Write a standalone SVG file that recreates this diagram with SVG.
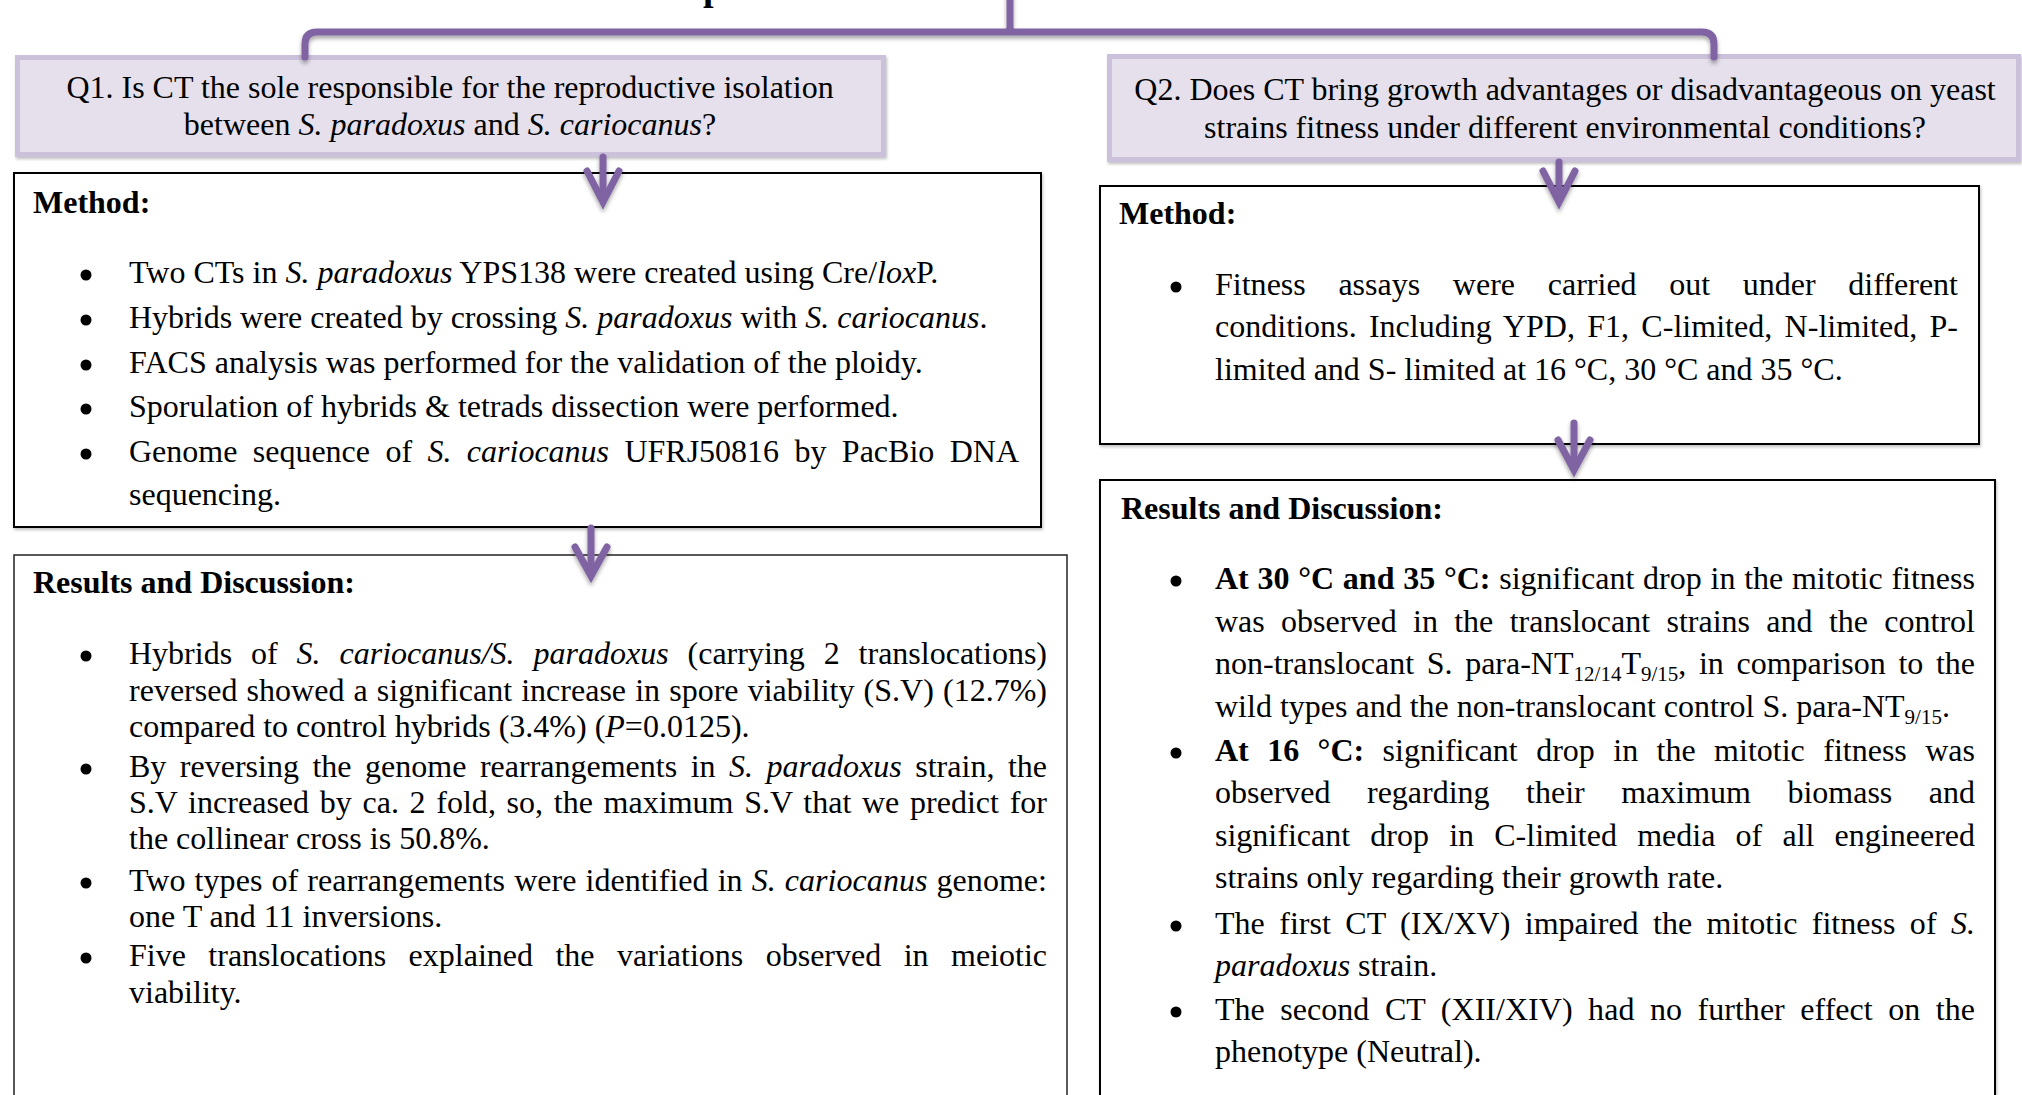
<svg xmlns="http://www.w3.org/2000/svg" width="2022" height="1095" viewBox="0 0 2022 1095">
<defs>
<style>
text { font-family: "Liberation Serif", "Times New Roman", serif; font-size: 32px; fill: #000; }
.h, .b { font-weight: bold; }
.i { font-style: italic; }
.q { text-anchor: middle; }
.sub { font-size: 21px; }
.qbox { fill: #e5e0ec; stroke: #ccc1da; stroke-width: 5; }
.box { fill: #fff; stroke: #000; stroke-width: 2; }
.box2 { fill: #fff; stroke: #222; stroke-width: 1.5; }
.bul { fill: #000; }
.conn { fill: none; stroke: #8064a2; stroke-width: 7; stroke-linecap: round; stroke-linejoin: round; }
.head { fill: none; stroke: #8064a2; stroke-width: 7; stroke-linejoin: miter; stroke-linecap: round; }
</style>
<filter id="sh" filterUnits="userSpaceOnUse" x="0" y="0" width="2022" height="1095">
<feDropShadow dx="0" dy="3" stdDeviation="2" flood-color="#000" flood-opacity="0.35"/>
</filter>
<filter id="bsh" filterUnits="userSpaceOnUse" x="0" y="0" width="2022" height="1095">
<feDropShadow dx="1" dy="2" stdDeviation="1.5" flood-color="#000" flood-opacity="0.25"/>
</filter>
</defs>
<rect width="2022" height="1095" fill="#fff"/>

<g id="title">
<text class="h" x="703" y="0" style="font-size:38px">p</text>
</g>

<g id="q1">
<rect class="qbox" x="17.5" y="57.5" width="866" height="97" filter="url(#bsh)"/>
<text class="q" x="450" y="98">Q1. Is CT the sole responsible for the reproductive isolation</text>
<text class="q" x="450" y="135">between <tspan class="i">S. paradoxus</tspan> and <tspan class="i">S. cariocanus</tspan>?</text>
</g>

<g id="q2">
<rect class="qbox" x="1109.5" y="56.5" width="909" height="103" filter="url(#bsh)"/>
<text class="q" x="1565" y="100">Q2. Does CT bring growth advantages or disadvantageous on yeast</text>
<text class="q" x="1565" y="138">strains fitness under different environmental conditions?</text>
</g>

<g id="method1">
<rect class="box" x="14" y="173" width="1027" height="354" filter="url(#bsh)"/>
<text class="h" x="33" y="213">Method:</text>
<circle class="bul" cx="86" cy="275" r="5.5"/><text x="129" y="283">Two CTs in <tspan class="i">S. paradoxus</tspan> YPS138 were created using Cre/<tspan class="i">lox</tspan>P.</text>
<circle class="bul" cx="86" cy="320" r="5.5"/><text x="129" y="328">Hybrids were created by crossing <tspan class="i">S. paradoxus</tspan> with <tspan class="i">S. cariocanus</tspan>.</text>
<circle class="bul" cx="86" cy="365" r="5.5"/><text x="129" y="373">FACS analysis was performed for the validation of the ploidy.</text>
<circle class="bul" cx="86" cy="409" r="5.5"/><text x="129" y="417">Sporulation of hybrids &amp; tetrads dissection were performed.</text>
<circle class="bul" cx="86" cy="454" r="5.5"/><text x="129" y="462" textLength="890" lengthAdjust="spacing" word-spacing="7.4">Genome sequence of <tspan class="i">S. cariocanus</tspan> UFRJ50816 by PacBio DNA</text>
<text x="129" y="505">sequencing.</text>
</g>

<g id="results1">
<rect class="box2" x="14" y="555" width="1053" height="560"/>
<text class="h" x="33" y="593">Results and Discussion:</text>
<circle class="bul" cx="86" cy="656" r="5.5"/><text x="129" y="664" textLength="918" lengthAdjust="spacing" word-spacing="10.9">Hybrids of <tspan class="i">S. cariocanus/S. paradoxus</tspan> (carrying 2 translocations)</text>
<text x="129" y="701" textLength="918" lengthAdjust="spacing" word-spacing="1.1">reversed showed a significant increase in spore viability (S.V) (12.7%)</text>
<text x="129" y="737">compared to control hybrids (3.4%) (<tspan class="i">P</tspan>=0.0125).</text>
<circle class="bul" cx="86" cy="769" r="5.5"/><text x="129" y="777" textLength="918" lengthAdjust="spacing" word-spacing="5.5">By reversing the genome rearrangements in <tspan class="i">S. paradoxus</tspan> strain, the</text>
<text x="129" y="813" textLength="918" lengthAdjust="spacing" word-spacing="2.6">S.V increased by ca. 2 fold, so, the maximum S.V that we predict for</text>
<text x="129" y="849">the collinear cross is 50.8%.</text>
<circle class="bul" cx="86" cy="883" r="5.5"/><text x="129" y="891" textLength="918" lengthAdjust="spacing" word-spacing="1">Two types of rearrangements were identified in <tspan class="i">S. cariocanus</tspan> genome:</text>
<text x="129" y="927">one T and 11 inversions.</text>
<circle class="bul" cx="86" cy="958" r="5.5"/><text x="129" y="966" textLength="918" lengthAdjust="spacing" word-spacing="14.4">Five translocations explained the variations observed in meiotic</text>
<text x="129" y="1003">viability.</text>
</g>

<g id="method2">
<rect class="box" x="1100" y="186" width="879" height="258" filter="url(#bsh)"/>
<text class="h" x="1119" y="224">Method:</text>
<circle class="bul" cx="1176" cy="287" r="5.5"/><text x="1215" y="295" textLength="743" lengthAdjust="spacing" word-spacing="24.6">Fitness assays were carried out under different</text>
<text x="1215" y="337" textLength="743" lengthAdjust="spacing" word-spacing="4.2">conditions. Including YPD, F1, C-limited, N-limited, P-</text>
<text x="1215" y="380">limited and S- limited at 16 °C, 30 °C and 35 °C.</text>
</g>

<g id="results2">
<rect class="box" x="1100" y="480" width="895" height="640" filter="url(#bsh)"/>
<text class="h" x="1121" y="519">Results and Discussion:</text>
<circle class="bul" cx="1176" cy="581" r="5.5"/><text x="1215" y="589" textLength="760" lengthAdjust="spacing" word-spacing="0.7"><tspan class="b">At 30 °C and 35 °C:</tspan> significant drop in the mitotic fitness</text>
<text x="1215" y="632" textLength="760" lengthAdjust="spacing" word-spacing="8.3">was observed in the translocant strains and the control</text>
<text x="1215" y="674" textLength="760" lengthAdjust="spacing" word-spacing="4.6">non-translocant S. para-NT<tspan class="sub" dy="7">12/14</tspan><tspan dy="-7">T</tspan><tspan class="sub" dy="7">9/15</tspan><tspan dy="-7">, in comparison to the</tspan></text>
<text x="1215" y="717">wild types and the non-translocant control S. para-NT<tspan class="sub" dy="7">9/15</tspan><tspan dy="-7">.</tspan></text>
<circle class="bul" cx="1176" cy="753" r="5.5"/><text x="1215" y="761" textLength="760" lengthAdjust="spacing" word-spacing="10.4"><tspan class="b">At 16 °C:</tspan> significant drop in the mitotic fitness was</text>
<text x="1215" y="803" textLength="760" lengthAdjust="spacing" word-spacing="28.5">observed regarding their maximum biomass and</text>
<text x="1215" y="846" textLength="760" lengthAdjust="spacing" word-spacing="12.2">significant drop in C-limited media of all engineered</text>
<text x="1215" y="888">strains only regarding their growth rate.</text>
<circle class="bul" cx="1176" cy="926" r="5.5"/><text x="1215" y="934" textLength="760" lengthAdjust="spacing" word-spacing="6.4">The first CT (IX/XV) impaired the mitotic fitness of <tspan class="i">S.</tspan></text>
<text x="1215" y="976"><tspan class="i">paradoxus</tspan> strain.</text>
<circle class="bul" cx="1176" cy="1012" r="5.5"/><text x="1215" y="1020" textLength="760" lengthAdjust="spacing" word-spacing="7.5">The second CT (XII/XIV) had no further effect on the</text>
<text x="1215" y="1062">phenotype (Neutral).</text>
</g>

<g id="connectors" filter="url(#sh)">
<path class="conn" d="M1010,-5 L1010,30 M305,57 L305,44 Q305,32 317,32 L1702,32 Q1714,32 1714,44 L1714,57"/>
<path d="M1002,33 Q1008,30 1008,20 L1012,20 Q1012,30 1018,33 Z" fill="#8064a2"/>
<path class="conn" d="M603,157 L603,200"/>
<path class="head" d="M587,171 L603,202 L619,171"/>
<path class="conn" d="M591,528 L591,574"/>
<path class="head" d="M575,547 L591,576 L607,547"/>
<path class="conn" d="M1559,162 L1559,200"/>
<path class="head" d="M1543,171 L1559,202 L1575,171"/>
<path class="conn" d="M1574,423 L1574,468"/>
<path class="head" d="M1558,440 L1574,470 L1590,440"/>
</g>
</svg>
